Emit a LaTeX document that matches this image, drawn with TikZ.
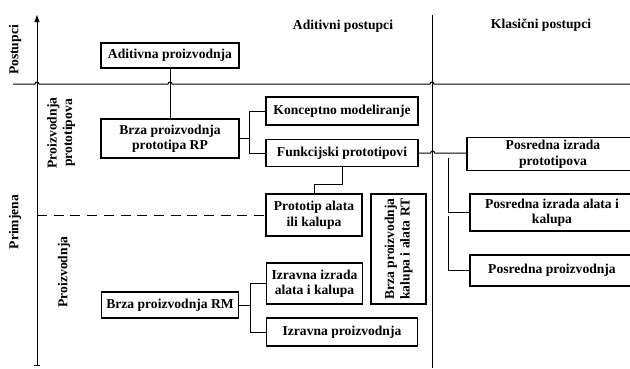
\documentclass[tikz,border=0pt]{standalone}
\usepackage{fontspec}
\setmainfont{Liberation Serif}
\usetikzlibrary{arrows.meta}

\begin{document}
\begin{tikzpicture}[x=1pt,y=-1pt,
  box/.style={draw,line width=1.3pt,align=center,inner sep=0pt,font=\bfseries\fontsize{13.6}{15.5}\selectfont},
  lbl/.style={align=center,inner sep=0pt,font=\bfseries\fontsize{13.6}{15.5}\selectfont},
  conn/.style={line width=1pt}]
\useasboundingbox (0,0) rectangle (630,368);
\node[lbl] (hAdit) at (343,26) {Aditivni postupci};
\node[lbl] (hKlas) at (541,25) {Klasični postupci};
\node[lbl,rotate=90] (lPost) at (15,50) {Postupci};
\node[lbl,rotate=90] (lPrim) at (15,222) {Primjena};
\node[lbl,rotate=90] (lProt) at (61,133) {Proizvodnja\\prototipova};
\node[lbl,rotate=90] (lProiz) at (64,272) {Proizvodnja};
\node[box,minimum width=138pt,minimum height=25pt] (adit) at (170,55.5) {Aditivna proizvodnja};
\node[box,minimum width=138pt,minimum height=39pt] (brzaRP) at (170,138.5) {Brza proizvodnja\\prototipa RP};
\node[box,minimum width=152pt,minimum height=28pt] (konc) at (342,111) {Konceptno modeliranje};
\node[box,minimum width=152pt,minimum height=27pt] (funk) at (342,153) {Funkcijski prototipovi};
\node[box,minimum width=96pt,minimum height=42pt] (protAK) at (314,215) {Prototip alata\\ili kalupa};
\node[box,rotate=90,minimum width=110pt,minimum height=55pt] (brzaRT) at (398.5,249) {Brza proizvodnja\\kalupa i alata RT};
\node[box,minimum width=96pt,minimum height=41pt] (izrAK) at (314.5,283.5) {Izravna izrada\\alata i kalupa};
\node[box,minimum width=151pt,minimum height=28pt] (izrP) at (342,332) {Izravna proizvodnja};
\node[box,minimum width=137pt,minimum height=26pt] (brzaRM) at (170,305) {Brza proizvodnja RM};
\node[box,minimum width=172pt,minimum height=33pt] (posPT) at (553,154) {Posredna izrada\\prototipova};
\node[box,minimum width=164pt,minimum height=37pt] (posAK) at (552,212.5) {Posredna izrada alata i\\kalupa};
\node[box,minimum width=164pt,minimum height=31pt] (posP) at (552,270.5) {Posredna proizvodnja};
\coordinate (o) at (37,84);
\draw[conn,{Bar[width=6pt]}-{Triangle[length=7pt,width=5pt]}] (37,366) -- (37,15);
\draw[conn] (432,15) -- (432,368);
\draw[conn] (13,84) -- (35,84) arc (180:360:2) -- (168,84) arc (180:360:2) -- (430,84) arc (180:360:2) -- (630,84);
\draw[conn] (adit) -- (brzaRP);
\draw[conn] (brzaRP.east) -- ++(10,0) coordinate (j1);
\draw[conn] (j1) |- (konc.west);
\draw[conn] (j1) |- (funk.west);
\draw[conn] (funk.south) -- ++(0,17) -| (protAK.north);
\draw[conn] (brzaRM.east) -- ++(11,0) coordinate (j2);
\draw[conn] (j2) |- (izrAK.west);
\draw[conn] (j2) |- (izrP.west);
\draw[conn,dash pattern=on 10pt off 6.7pt] (o |- protAK.west) -- (protAK.west);
\draw[conn] (funk.east) -- ++(12,0) arc (180:360:2) -- (funk.east -| posPT.west);
\coordinate (b1) at (448,158);
\coordinate (b2) at (448,216);
\draw[conn] (b1) |- (posAK.west);
\draw[conn] (b2) |- (posP.west);
\end{tikzpicture}
\end{document}
